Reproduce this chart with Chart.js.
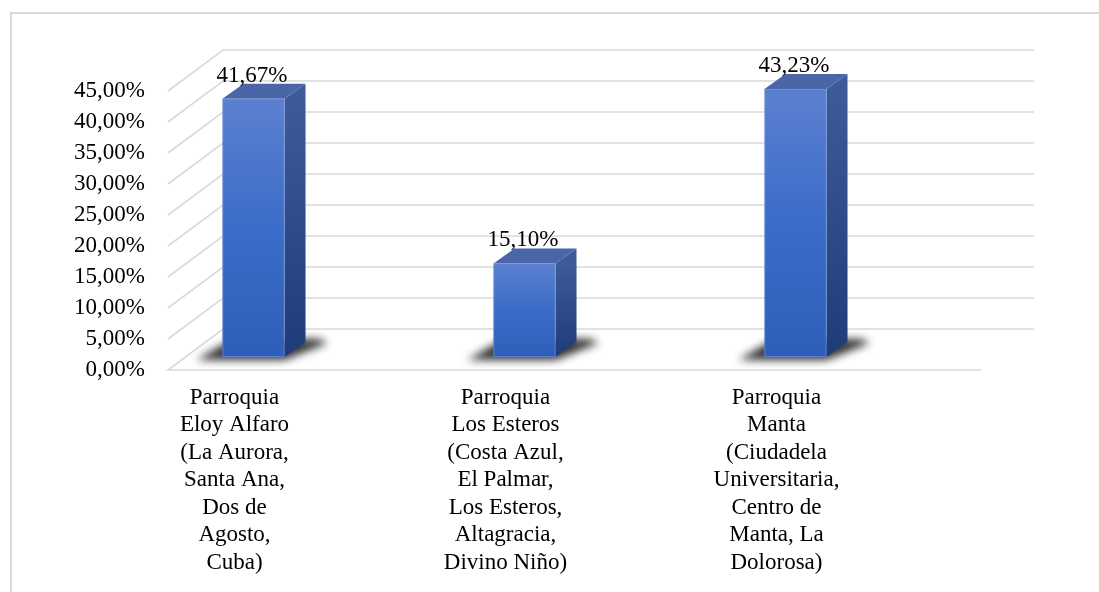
<!DOCTYPE html>
<html>
<head>
<meta charset="utf-8">
<script src="https://cdn.jsdelivr.net/npm/chart.js@4/dist/chart.umd.min.js"></script>
<style>
  html, body { margin: 0; padding: 0; background: #fff; overflow: hidden; }
  #frame { position: absolute; left: 10px; top: 12px; width: 1100px; height: 600px;
           border: 2px solid #d9d9d9; box-sizing: border-box; }
  #wrap { position: absolute; left: 0; top: 0; width: 1099px; height: 592px; }
</style>
</head>
<body>
<div id="frame"></div>
<div id="wrap"><canvas id="c"></canvas></div>
<script>
// Parishes surveyed (one label line per array entry)
const categories = [
  ['Parroquia', 'Eloy Alfaro', '(La Aurora,', 'Santa Ana,', 'Dos de', 'Agosto,', 'Cuba)'],
  ['Parroquia', 'Los Esteros', '(Costa Azul,', 'El Palmar,', 'Los Esteros,', 'Altagracia,', 'Divino Niño)'],
  ['Parroquia', 'Manta', '(Ciudadela', 'Universitaria,', 'Centro de', 'Manta, La', 'Dolorosa)']
];
// Share of respondents per parish, in percent
const percentages = [41.67, 15.10, 43.23];
// Value axis range and tick step
const axisMin = 0;
const axisMax = 45;
const axisStep = 5;

const fmtPct = v => v.toFixed(2).replace('.', ',') + '%';
const SERIF = '"Liberation Serif", "Times New Roman", serif';

// Perspective of the box: back wall offset and column depth
const WALL_DX = 55, WALL_DY = -41;
const COL_DX = 21, COL_DY = -15;
const COL_SHIFT_X = -50, COL_SHIFT_Y = -13;

const box3d = {
  id: 'box3d',
  beforeDatasetsDraw(chart) {
    const { ctx, chartArea: a, scales: { y } } = chart;
    ctx.save();
    ctx.strokeStyle = '#d9d9d9';
    ctx.lineWidth = 1.6;
    const ticks = y.ticks.map(t => t.value);
    ticks.forEach(v => {
      const yf = y.getPixelForValue(v);
      ctx.beginPath();
      if (v === axisMin) {
        ctx.moveTo(a.right, yf);
        ctx.lineTo(a.left, yf);
      } else {
        ctx.moveTo(a.left, yf);
      }
      ctx.lineTo(a.left + WALL_DX, yf + WALL_DY);
      ctx.lineTo(a.right + WALL_DX - 2, yf + WALL_DY);
      ctx.stroke();
    });
    ctx.restore();
  },
  afterDatasetsDraw(chart) {
    const { ctx } = chart;
    const meta = chart.getDatasetMeta(0);
    const cols = meta.data.map(el => {
      const p = el.getProps(['x', 'y', 'base', 'width'], true);
      const x0 = p.x + COL_SHIFT_X - p.width / 2;
      const x1 = p.x + COL_SHIFT_X + p.width / 2;
      return { x0, x1, top: p.y + COL_SHIFT_Y, base: p.base + COL_SHIFT_Y, cx: p.x + COL_SHIFT_X };
    });

    // soft floor shadows
    cols.forEach(c => {
      ctx.save();
      ctx.filter = 'blur(4px)';
      ctx.fillStyle = 'rgba(0,0,0,0.8)';
      ctx.beginPath();
      ctx.moveTo(c.x0 - 26, c.base + 3);
      ctx.lineTo(c.x1, c.base + 3);
      ctx.lineTo(c.x1 + COL_DX + 22, c.base + COL_DY + 1);
      ctx.lineTo(c.x1 + COL_DX + 14, c.base + COL_DY - 3);
      ctx.lineTo(c.x0 + 10, c.base + COL_DY - 3);
      ctx.closePath();
      ctx.fill();
      ctx.restore();
    });

    cols.forEach((c, i) => {
      ctx.save();
      // right side face
      const gs = ctx.createLinearGradient(0, c.top, 0, c.base);
      gs.addColorStop(0, '#3e5b99');
      gs.addColorStop(1, '#1e3c78');
      ctx.fillStyle = gs;
      ctx.beginPath();
      ctx.moveTo(c.x1, c.top);
      ctx.lineTo(c.x1 + COL_DX, c.top + COL_DY);
      ctx.lineTo(c.x1 + COL_DX, c.base + COL_DY);
      ctx.lineTo(c.x1, c.base);
      ctx.closePath();
      ctx.fill();
      // top face
      ctx.fillStyle = '#4a66a8';
      ctx.beginPath();
      ctx.moveTo(c.x0, c.top);
      ctx.lineTo(c.x0 + COL_DX, c.top + COL_DY);
      ctx.lineTo(c.x1 + COL_DX, c.top + COL_DY);
      ctx.lineTo(c.x1, c.top);
      ctx.closePath();
      ctx.fill();
      // front face
      const gf = ctx.createLinearGradient(0, c.top, 0, c.base);
      gf.addColorStop(0, '#5c80d0');
      gf.addColorStop(0.5, '#3b6cc9');
      gf.addColorStop(1, '#2e5eb9');
      ctx.fillStyle = gf;
      ctx.fillRect(c.x0, c.top, c.x1 - c.x0, c.base - c.top);
      ctx.strokeStyle = 'rgba(140,165,220,0.6)';
      ctx.lineWidth = 0.8;
      ctx.strokeRect(c.x0 + 0.4, c.top + 0.4, c.x1 - c.x0 - 0.8, c.base - c.top - 0.8);
      // value label
      ctx.fillStyle = '#000';
      ctx.font = '23px ' + SERIF;
      ctx.textAlign = 'center';
      ctx.textBaseline = 'alphabetic';
      ctx.fillText(fmtPct(percentages[i]), c.cx - 1.5, c.top + COL_DY - 2);
      ctx.restore();
    });
  }
};

new Chart(document.getElementById('c'), {
  type: 'bar',
  data: {
    labels: categories,
    datasets: [{
      data: percentages,
      backgroundColor: 'rgba(0,0,0,0)',
      borderWidth: 0,
      barPercentage: 0.229,
      categoryPercentage: 1
    }]
  },
  options: {
    responsive: true,
    maintainAspectRatio: false,
    animation: false,
    devicePixelRatio: 1,
    layout: { padding: { left: 0, right: 118, top: 91, bottom: 0 } },
    plugins: { legend: { display: false }, tooltip: { enabled: false }, title: { display: false } },
    scales: {
      x: {
        offset: true,
        grid: { display: false, drawTicks: false },
        border: { display: false },
        ticks: {
          color: '#000',
          font: { family: SERIF, size: 23, lineHeight: 1.196 },
          padding: 14,
          labelOffset: -69,
          autoSkip: false,
          maxRotation: 0,
          minRotation: 0
        },
        afterFit(scale) { scale.height = 222; }
      },
      y: {
        min: axisMin,
        max: axisMax,
        grid: { display: false, drawTicks: false },
        border: { display: false },
        ticks: {
          stepSize: axisStep,
          color: '#000',
          font: { family: SERIF, size: 23 },
          padding: 23,
          callback: v => fmtPct(v)
        },
        afterFit(scale) { scale.width = 168; }
      }
    }
  },
  plugins: [box3d]
});
</script>
</body>
</html>
